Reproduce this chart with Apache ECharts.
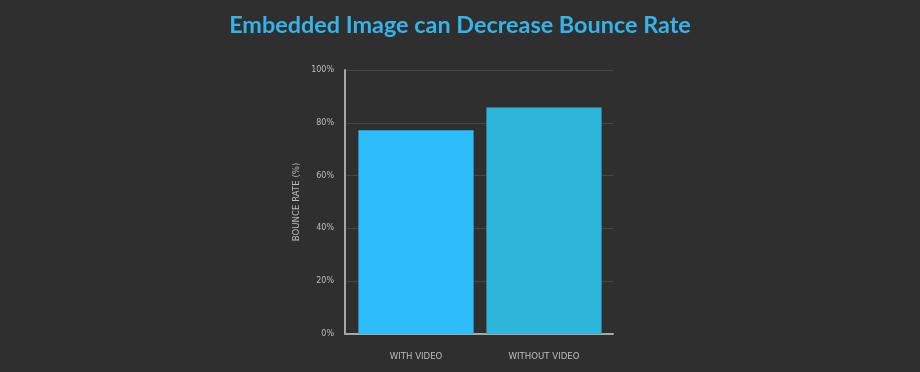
<!DOCTYPE html>
<html><head><meta charset="utf-8">
<script src="https://cdn.jsdelivr.net/npm/echarts@6/dist/echarts.min.js"></script>
<style>html,body{margin:0;padding:0;background:#2f2f2f;}#c{width:920px;height:372px;}</style>
</head><body><div id="c"></div>
<script>
const categories = ['WITH VIDEO', 'WITHOUT VIDEO'];
const bounceRate = [77.2, 85.8];
const barColors = ['#2ebdfb', '#2db5da'];
const yTicks = [0, 20, 40, 60, 80, 100];

const labelFont = 'DejaVu Sans';
const chart = echarts.init(document.getElementById('c'), null, {renderer: 'canvas'});
chart.setOption({
  backgroundColor: '#2f2f2f',
  animation: false,
  title: {
    text: 'Embedded Image can Decrease Bounce Rate',
    left: 'center', top: 9,
    textStyle: {color: '#36b4ea', fontFamily: 'Lato', fontWeight: 'bold', fontSize: 23.4}
  },
  grid: [
    {left: 345, right: 307, top: 70, bottom: 38},
    {left: 352, right: 312, top: 70, bottom: 38}
  ],
  xAxis: [{
    gridIndex: 0, type: 'category', data: categories,
    axisLine: {lineStyle: {color: '#a8a8a8', width: 2}},
    axisTick: {show: false},
    axisLabel: {show: false}
  }, {
    gridIndex: 1, type: 'category', data: categories,
    axisLine: {show: false},
    axisTick: {show: false},
    axisLabel: {color: '#bdbdbd', fontSize: 8.6, fontFamily: labelFont, margin: 18}
  }],
  yAxis: [{
    gridIndex: 0, type: 'value', min: yTicks[0], max: yTicks[yTicks.length - 1], interval: 20,
    name: 'BOUNCE RATE (%)', nameLocation: 'middle', nameGap: 44, nameRotate: 90,
    nameTextStyle: {color: '#bdbdbd', fontSize: 8.6, fontFamily: labelFont},
    axisLine: {show: true, lineStyle: {color: '#a8a8a8', width: 2}},
    axisTick: {show: false},
    splitLine: {lineStyle: {color: '#474747', width: 1}},
    axisLabel: {color: '#bdbdbd', fontSize: 8, fontFamily: labelFont, margin: 11, padding: [4, 0, 0, 0], formatter: '{value}%'}
  }, {
    gridIndex: 1, type: 'value', min: yTicks[0], max: yTicks[yTicks.length - 1], interval: 20,
    show: false
  }],
  series: [{
    type: 'bar', xAxisIndex: 1, yAxisIndex: 1, barCategoryGap: '10%',
    data: bounceRate.map((v, i) => ({value: v, itemStyle: {color: barColors[i]}}))
  }]
});
</script></body></html>
